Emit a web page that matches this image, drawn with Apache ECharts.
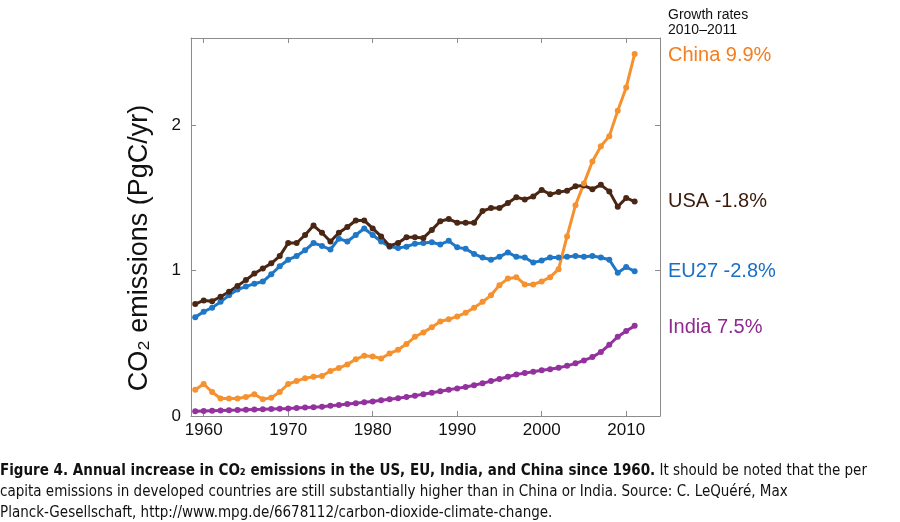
<!DOCTYPE html>
<html>
<head>
<meta charset="utf-8">
<script src="https://cdn.jsdelivr.net/npm/echarts@6/dist/echarts.min.js"></script>
<style>
html,body{margin:0;padding:0;background:#fff;}
#c{width:900px;height:522px;}
</style>
</head>
<body>
<div id="c"></div>
<script>
var years = [];
for (var y = 1959; y <= 2011; y++) years.push(y);

var usa = [0.77,0.795,0.79,0.82,0.855,0.895,0.935,0.98,1.015,1.05,1.10,1.19,1.19,1.245,1.31,1.26,1.20,1.26,1.30,1.345,1.345,1.29,1.235,1.17,1.19,1.23,1.23,1.225,1.28,1.34,1.355,1.33,1.33,1.33,1.41,1.43,1.43,1.465,1.505,1.49,1.51,1.555,1.525,1.54,1.55,1.58,1.585,1.56,1.59,1.545,1.44,1.50,1.475];
var eu27 = [0.68,0.717,0.745,0.785,0.83,0.87,0.89,0.91,0.925,0.975,1.03,1.075,1.10,1.14,1.19,1.17,1.145,1.22,1.20,1.245,1.29,1.245,1.20,1.165,1.155,1.165,1.185,1.19,1.195,1.18,1.205,1.16,1.15,1.115,1.09,1.075,1.095,1.125,1.095,1.09,1.055,1.07,1.09,1.09,1.095,1.10,1.095,1.10,1.09,1.075,0.985,1.025,0.995];
var china = [0.18,0.22,0.165,0.12,0.12,0.12,0.13,0.15,0.115,0.125,0.165,0.22,0.24,0.26,0.27,0.275,0.31,0.33,0.355,0.39,0.415,0.41,0.395,0.43,0.455,0.495,0.545,0.575,0.61,0.65,0.665,0.685,0.71,0.745,0.785,0.83,0.90,0.945,0.955,0.905,0.905,0.925,0.955,1.01,1.235,1.45,1.60,1.75,1.855,1.925,2.10,2.26,2.49];
var india = [0.032,0.034,0.036,0.038,0.040,0.041,0.043,0.045,0.046,0.048,0.050,0.052,0.055,0.058,0.061,0.064,0.070,0.076,0.082,0.088,0.094,0.100,0.108,0.115,0.122,0.130,0.140,0.150,0.160,0.170,0.180,0.190,0.200,0.212,0.225,0.240,0.255,0.270,0.285,0.295,0.305,0.315,0.322,0.332,0.345,0.362,0.382,0.405,0.440,0.490,0.545,0.585,0.620];

var xTicks = [1960,1970,1980,1990,2000,2010];
var yTicks = [0,1,2];
var seriesNames = ['EU27','USA','India','China'];
var legendLabels = ['China 9.9%','USA -1.8%','EU27 -2.8%','India 7.5%'];

function pairs(arr){ return years.map(function(yr,i){ return [yr, arr[i]]; }); }

var FONT = '"Liberation Sans", Arial, sans-serif';
var CAP = '"DejaVu Sans Condensed", "DejaVu Sans", sans-serif';
var AX = '#8c8c8c';

var chart = echarts.init(document.getElementById('c'), null, {renderer:'canvas'});

function mkSeries(name, data, color){
  return {
    name: name, type: 'line', data: pairs(data),
    symbol: 'circle', symbolSize: 6, showSymbol: true,
    lineStyle: {color: color, width: 3},
    itemStyle: {color: color},
    emphasis: {disabled: true},
    animation: false
  };
}

function axLine(){ return {show: true, onZero: false, lineStyle: {color: AX, width: 1}}; }

var option = {
  animation: false,
  grid: {left: 191, right: 240, top: 38, bottom: 106, containLabel: false},
  xAxis: [{
    type: 'value', min: 1958.5, max: 2014, position: 'bottom',
    axisLine: axLine(),
    axisTick: {show: true, inside: true, length: 5, lineStyle: {color: AX}, customValues: xTicks},
    axisLabel: {show: true, customValues: xTicks, color: '#111', fontSize: 17, fontFamily: FONT, margin: 6, formatter: function(v){return String(v);}},
    splitLine: {show: false}
  },{
    type: 'value', min: 1958.5, max: 2014, position: 'top',
    axisLine: axLine(),
    axisTick: {show: true, inside: true, length: 5, lineStyle: {color: AX}, customValues: xTicks},
    axisLabel: {show: false},
    splitLine: {show: false}
  }],
  yAxis: [{
    type: 'value', min: 0, max: 2.6, position: 'left',
    axisLine: axLine(),
    axisTick: {show: true, inside: true, length: 5, lineStyle: {color: AX}, customValues: yTicks},
    axisLabel: {show: true, customValues: yTicks, color: '#111', fontSize: 17, fontFamily: FONT, margin: 10},
    splitLine: {show: false}
  },{
    type: 'value', min: 0, max: 2.6, position: 'right',
    axisLine: axLine(),
    axisTick: {show: true, inside: true, length: 5, lineStyle: {color: AX}, customValues: yTicks},
    axisLabel: {show: false},
    splitLine: {show: false}
  }],
  series: [
    mkSeries(seriesNames[0], eu27, '#1f77c6'),
    mkSeries(seriesNames[1], usa, '#4a2614'),
    mkSeries(seriesNames[2], india, '#93329e'),
    mkSeries(seriesNames[3], china, '#f5922f')
  ],
  graphic: [
    {type:'text', x: 140, y: 248, rotation: Math.PI/2,
     style:{text:'CO₂ emissions (PgC/yr)', fill:'#111', font:'27px ' + FONT, align:'center', verticalAlign:'middle'}},
    {type:'text', x: 668, y: 8, style:{text:'Growth rates\n2010–2011', fill:'#111', font:'14px ' + FONT, lineHeight: 15}},
    {type:'text', x: 668, y: 55, style:{text:legendLabels[0], fill:'#f47d20', font:'20px ' + FONT, verticalAlign:'middle'}},
    {type:'text', x: 668, y: 201, style:{text:legendLabels[1], fill:'#3a1a0a', font:'20px ' + FONT, verticalAlign:'middle'}},
    {type:'text', x: 668, y: 271, style:{text:legendLabels[2], fill:'#1a6fc2', font:'20px ' + FONT, verticalAlign:'middle'}},
    {type:'text', x: 668, y: 327, style:{text:legendLabels[3], fill:'#8e2a8e', font:'20px ' + FONT, verticalAlign:'middle'}},
    {type:'text', x: 0, y: 471, style:{
      text:'{b|Figure 4. Annual increase in CO₂ emissions in the US, EU, India, and China since 1960.} It should be noted that the per',
      fill:'#111', font:'15px ' + CAP, verticalAlign:'middle',
      rich:{b:{fontWeight:'bold', fontSize:15, fontFamily:CAP, fill:'#111'}}
    }},
    {type:'text', x: 0, y: 492, style:{text:'capita emissions in developed countries are still substantially higher than in China or India. Source: C. LeQuéré, Max',
      fill:'#111', font:'15px ' + CAP, verticalAlign:'middle'}},
    {type:'text', x: 0, y: 513, style:{text:'Planck-Gesellschaft, http://www.mpg.de/6678112/carbon-dioxide-climate-change.',
      fill:'#111', font:'15px ' + CAP, verticalAlign:'middle'}}
  ]
};
chart.setOption(option);
</script>
</body>
</html>
